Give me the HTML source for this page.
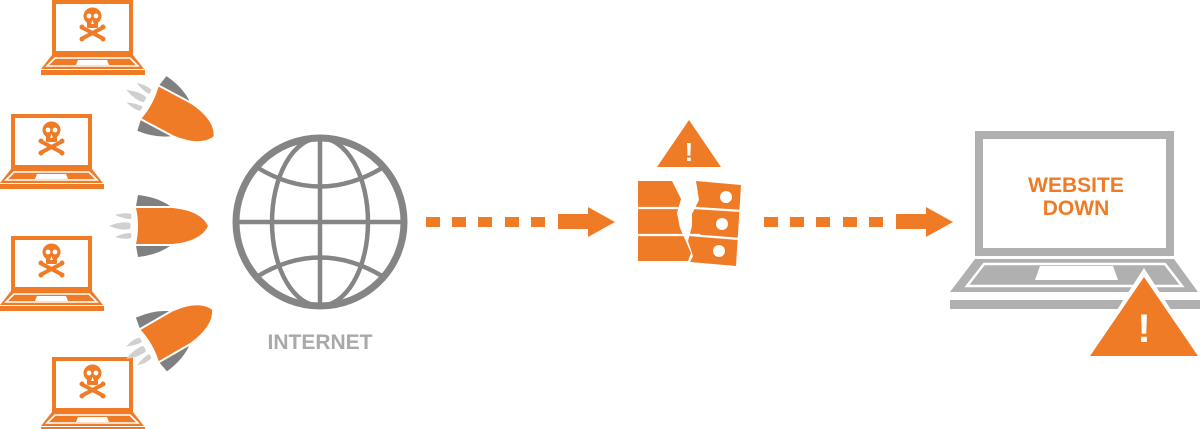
<!DOCTYPE html>
<html><head><meta charset="utf-8"><style>
html,body{margin:0;padding:0;background:#fff;}
svg{display:block;}
</style></head><body>
<svg width="1200" height="429" viewBox="0 0 1200 429" xmlns="http://www.w3.org/2000/svg">
<defs>
<g id="lap">
  <rect x="13" y="2" width="77" height="51" fill="none" stroke="#f07b27" stroke-width="4"/>
  <polygon points="11,55 92,55 103,69 0,69" fill="#f07b27"/>
  <polygon points="14,58 89,58 97,66 6,66" fill="none" stroke="#fff" stroke-width="1.6"/>
  <polygon points="37,60 66,60 68,65 35,65" fill="#fff"/>
  <rect x="0" y="70" width="104" height="5" fill="#f07b27"/>
  <g fill="#f07b27">
    <ellipse cx="51.5" cy="16" rx="9" ry="8.5"/>
    <rect x="46" y="19" width="11" height="9" rx="1"/>
    <line x1="42" y1="28" x2="61" y2="38" stroke="#f07b27" stroke-width="4" stroke-linecap="round"/>
    <line x1="61" y1="28" x2="42" y2="38" stroke="#f07b27" stroke-width="4" stroke-linecap="round"/>
    <circle cx="41" cy="27" r="2.5"/><circle cx="62" cy="27" r="2.5"/>
    <circle cx="41" cy="39" r="2.5"/><circle cx="62" cy="39" r="2.5"/>
  </g>
  <circle cx="48" cy="16" r="2.4" fill="#fff"/>
  <circle cx="55" cy="16" r="2.4" fill="#fff"/>
  <polygon points="51.5,20 50,24 53,24" fill="#fff"/>
</g>
<g id="rocket">
  <path d="M-35,-20 L-33,-31 Q-14,-29 -1,-20 Z" fill="#808080"/>
  <path d="M-35,20 L-33,31 Q-14,29 -1,20 Z" fill="#808080"/>
  <path d="M-35,-18 L2,-18 Q30,-15 37,0 Q30,15 2,18 L-35,18 Q-31,0 -35,-18Z" fill="#f07b27"/>
  <path d="M-62,0 Q-50,-5 -41,-3 Q-40,0 -41,3 Q-50,5 -62,0Z" fill="#d0d0d0"/>
  <path d="M-56,-11 Q-46,-14 -40,-12 Q-39,-9 -40,-7 Q-47,-7 -56,-11Z" fill="#d0d0d0"/>
  <path d="M-56,11 Q-46,14 -40,12 Q-39,9 -40,7 Q-47,7 -56,11Z" fill="#d0d0d0"/>
</g>
</defs>

<use href="#lap" x="41" y="0"/>
<use href="#lap" x="0" y="114"/>
<use href="#lap" x="0" y="236"/>
<use href="#lap" x="41" y="357"/>

<g transform="translate(181,119) rotate(28)"><use href="#rocket"/></g>
<g transform="translate(171,226)"><use href="#rocket"/></g>
<g transform="translate(180,328) rotate(-30)"><use href="#rocket"/></g>

<g fill="none" stroke="#858585">
  <circle cx="320" cy="222" r="84" stroke-width="7"/>
  <ellipse cx="320" cy="222" rx="48" ry="84" stroke-width="4.5"/>
  <line x1="320" y1="138" x2="320" y2="306" stroke-width="4.5"/>
  <line x1="236" y1="222" x2="404" y2="222" stroke-width="4.5"/>
  <path d="M258,168 Q320,205 382,168" stroke-width="4.5"/>
  <path d="M258,276 Q320,239 382,276" stroke-width="4.5"/>
</g>
<text x="320" y="349" text-anchor="middle" font-family="Liberation Sans, sans-serif" font-weight="bold" font-size="21" fill="#a9a9a9">INTERNET</text>

<g fill="#f07b27">
  <rect x="426" y="217" width="14" height="10"/><rect x="452" y="217" width="14" height="10"/>
  <rect x="478" y="217" width="14" height="10"/><rect x="505" y="217" width="14" height="10"/>
  <rect x="531" y="217" width="14" height="10"/>
  <polygon points="558,214 588,214 588,207 615,222 588,237 588,229 558,229"/>
  <rect x="764" y="217" width="14" height="10"/><rect x="790" y="217" width="14" height="10"/>
  <rect x="816" y="217" width="14" height="10"/><rect x="843" y="217" width="14" height="10"/>
  <rect x="869" y="217" width="14" height="10"/>
  <polygon points="896,214 926,214 926,207 953,222 926,237 926,229 896,229"/>

  <polygon points="689,120 721,167 657,167"/>
  <polygon points="638,181 672,181 681,199 677,213 680,228 691,253 688,261 638,261"/>
  <polygon points="696,181 741,185 736,266 690,262 693,256 688,241 692,226 692,214 699,200"/>
</g>
<text x="689" y="161" text-anchor="middle" font-family="Liberation Sans, sans-serif" font-weight="bold" font-size="26" fill="#fff">!</text>
<g stroke="#fff" stroke-width="2.2">
  <line x1="636" y1="208" x2="700" y2="208"/>
  <line x1="636" y1="235" x2="700" y2="235"/>
  <line x1="695" y1="208" x2="742" y2="211"/>
  <line x1="690" y1="235" x2="740" y2="239"/>
</g>
<g fill="#fff">
  <circle cx="726" cy="197" r="6"/><circle cx="722" cy="224" r="6"/><circle cx="719" cy="251" r="6"/>
</g>

<rect x="979" y="135" width="191" height="117" fill="none" stroke="#b0b0b0" stroke-width="8"/>
<polygon points="975,259 1174,259 1198,292 950,292" fill="#b0b0b0"/>
<polygon points="984,264 1165,264 1182,286 967,286" fill="none" stroke="#fff" stroke-width="2.5"/>
<polygon points="1040,266 1113,266 1118,280 1035,280" fill="#fff"/>
<rect x="950" y="300" width="250" height="9" fill="#b0b0b0"/>
<text x="1076" y="192" text-anchor="middle" font-family="Liberation Sans, sans-serif" font-weight="bold" font-size="21" fill="#f07b27">WEBSITE</text>
<text x="1076" y="215" text-anchor="middle" font-family="Liberation Sans, sans-serif" font-weight="bold" font-size="21" fill="#f07b27">DOWN</text>
<polygon points="1144,268 1204,361 1084,361" fill="#fff"/>
<polygon points="1144,277 1198,356 1090,356" fill="#f07b27"/>
<text x="1144" y="342" text-anchor="middle" font-family="Liberation Sans, sans-serif" font-weight="bold" font-size="40" fill="#fff">!</text>
</svg>
</body></html>
